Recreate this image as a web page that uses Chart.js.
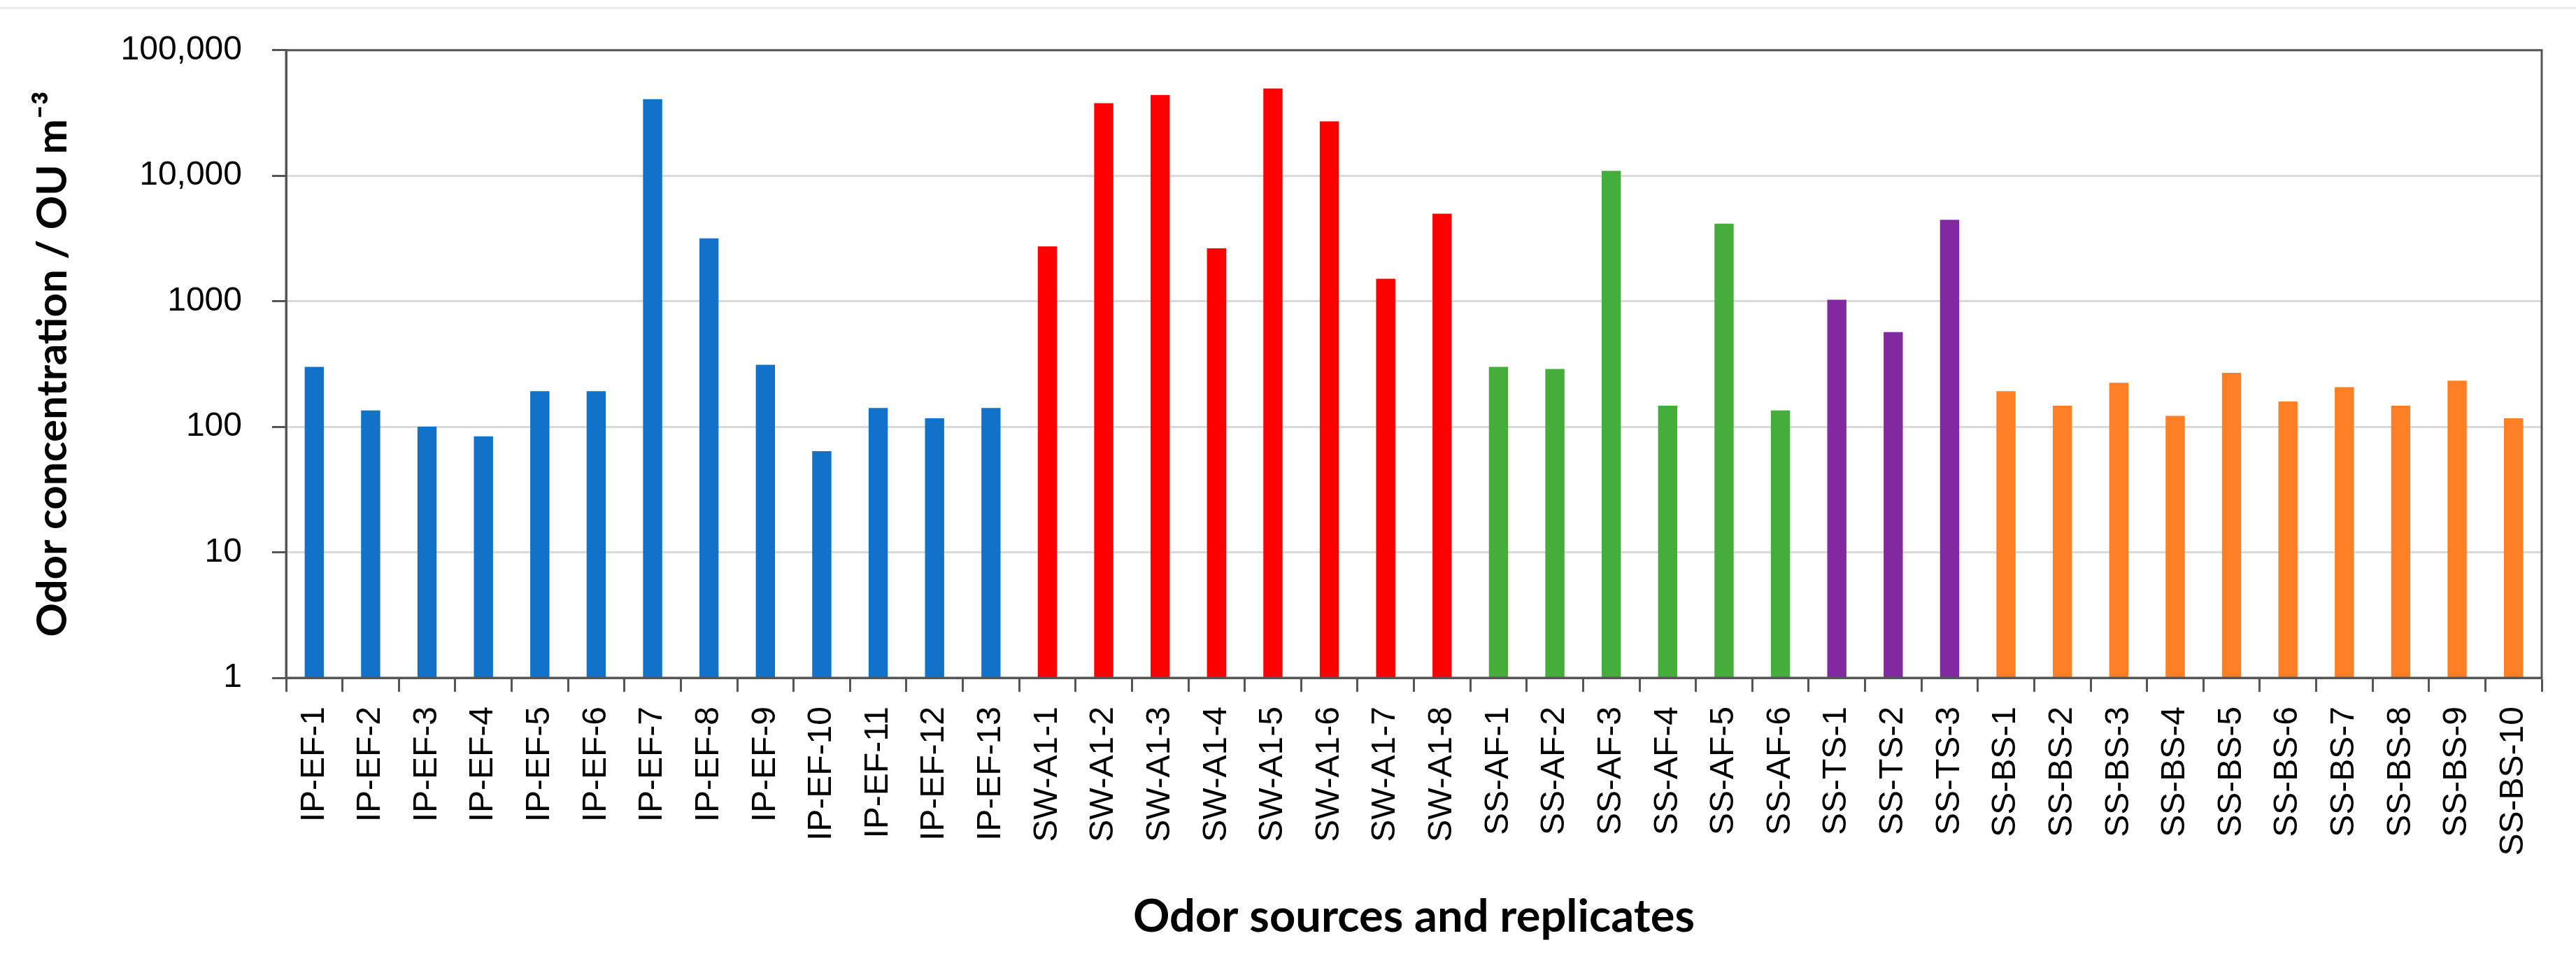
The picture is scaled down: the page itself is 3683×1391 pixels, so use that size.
<!DOCTYPE html>
<html>
<head>
<meta charset="utf-8">
<script src="https://cdn.jsdelivr.net/npm/chart.js@4.4.0/dist/chart.umd.min.js"></script>
<style>
  body { margin: 0; background: #fff; }
  #topline { position: absolute; left: 0; top: 10px; width: 3683px; height: 3px; background: #ececec; }
  #odor { position: absolute; left: 0; top: 0; }
</style>
</head>
<body>
<div id="topline"></div>
<canvas id="odor" width="3683" height="1391"></canvas>
<script>
// categories, grouped by odor source
const ipEfLabels = ['IP-EF-1', 'IP-EF-2', 'IP-EF-3', 'IP-EF-4', 'IP-EF-5', 'IP-EF-6', 'IP-EF-7',
    'IP-EF-8', 'IP-EF-9', 'IP-EF-10', 'IP-EF-11', 'IP-EF-12', 'IP-EF-13'];
const swA1Labels = ['SW-A1-1', 'SW-A1-2', 'SW-A1-3', 'SW-A1-4', 'SW-A1-5', 'SW-A1-6', 'SW-A1-7', 'SW-A1-8'];
const ssAfLabels = ['SS-AF-1', 'SS-AF-2', 'SS-AF-3', 'SS-AF-4', 'SS-AF-5', 'SS-AF-6'];
const ssTsLabels = ['SS-TS-1', 'SS-TS-2', 'SS-TS-3'];
const ssBsLabels = ['SS-BS-1', 'SS-BS-2', 'SS-BS-3', 'SS-BS-4', 'SS-BS-5', 'SS-BS-6', 'SS-BS-7',
    'SS-BS-8', 'SS-BS-9', 'SS-BS-10'];

// odor concentration, OU m-3
const ipEf = [300, 135, 100, 84, 192, 192, 40700, 3170, 312, 64, 141, 117, 141];
const swA1 = [2740, 37900, 44000, 2640, 49600, 27100, 1510, 4980];
const ssAf = [300, 289, 10950, 147, 4150, 135];
const ssTs = [1030, 568, 4460];
const ssBs = [192, 147, 224, 122, 269, 159, 207, 147, 233, 117];

const yTickValues = [1, 10, 100, 1000, 10000, 100000];
const yTickLabels = ['1', '10', '100', '1000', '10,000', '100,000'];

const groupColors = ['#1271c9', '#ff0000', '#45ad3b', '#8129a0', '#ff7f26'];
const groups = [ipEf, swA1, ssAf, ssTs, ssBs];

const labels = [].concat(ipEfLabels, swA1Labels, ssAfLabels, ssTsLabels, ssBsLabels);
const values = [].concat(...groups);
const colors = [];
groups.forEach((g, i) => g.forEach(() => colors.push(groupColors[i])));

const axisColor = '#555555';
const tickFont = { family: 'Liberation Sans', size: 48 };

const frame = {
    id: 'frame',
    afterDraw(chart) {
        const { ctx, chartArea: a } = chart;
        ctx.save();
        ctx.strokeStyle = axisColor;
        ctx.lineWidth = 3;
        ctx.strokeRect(a.left, a.top, a.right - a.left, a.bottom - a.top);
        ctx.restore();
    }
};

const ctx = document.getElementById('odor').getContext('2d');
const chart = new Chart(ctx, {
    type: 'bar',
    data: {
        labels: labels,
        datasets: [{
            data: values,
            backgroundColor: colors,
            categoryPercentage: 1,
            barPercentage: 0.34
        }]
    },
    options: {
        responsive: false,
        devicePixelRatio: 1,
        animation: false,
        layout: { padding: { top: 47, right: 49, bottom: 0, left: 0 } },
        plugins: {
            legend: { display: false },
            tooltip: { enabled: false }
        },
        scales: {
            x: {
                grid: {
                    offset: true,
                    drawOnChartArea: false,
                    tickLength: 20,
                    tickColor: axisColor,
                    tickWidth: 3
                },
                border: { color: axisColor, width: 3 },
                ticks: {
                    font: tickFont,
                    color: '#000',
                    minRotation: 90,
                    maxRotation: 90,
                    autoSkip: false,
                    padding: 21
                },
                title: {
                    display: true,
                    text: 'Odor sources and replicates',
                    font: { family: 'Lato', size: 65, weight: 'bold' },
                    color: '#000',
                    padding: { top: 0, bottom: 41 }
                },
                afterFit: (scale) => { scale.height = 422; }
            },
            y: {
                type: 'logarithmic',
                min: 1,
                max: 100000,
                afterBuildTicks: (scale) => {
                    scale.ticks = yTickValues.map(v => ({ value: v }));
                },
                grid: {
                    color: '#dadada',
                    lineWidth: 3,
                    tickLength: 20,
                    tickColor: axisColor,
                    tickWidth: 3
                },
                border: { color: axisColor, width: 3 },
                ticks: {
                    font: tickFont,
                    color: '#000',
                    padding: 43,
                    callback: (v) => yTickLabels[yTickValues.indexOf(v)]
                },
                title: {
                    display: true,
                    text: 'Odor concentration / OU m⁻³',
                    font: { family: 'Lato', size: 60, weight: 'bold' },
                    color: '#000',
                    padding: { top: 40, bottom: 0 }
                },
                afterFit: (scale) => { scale.width = 409; }
            }
        }
    },
    plugins: [frame]
});
</script>
</body>
</html>
